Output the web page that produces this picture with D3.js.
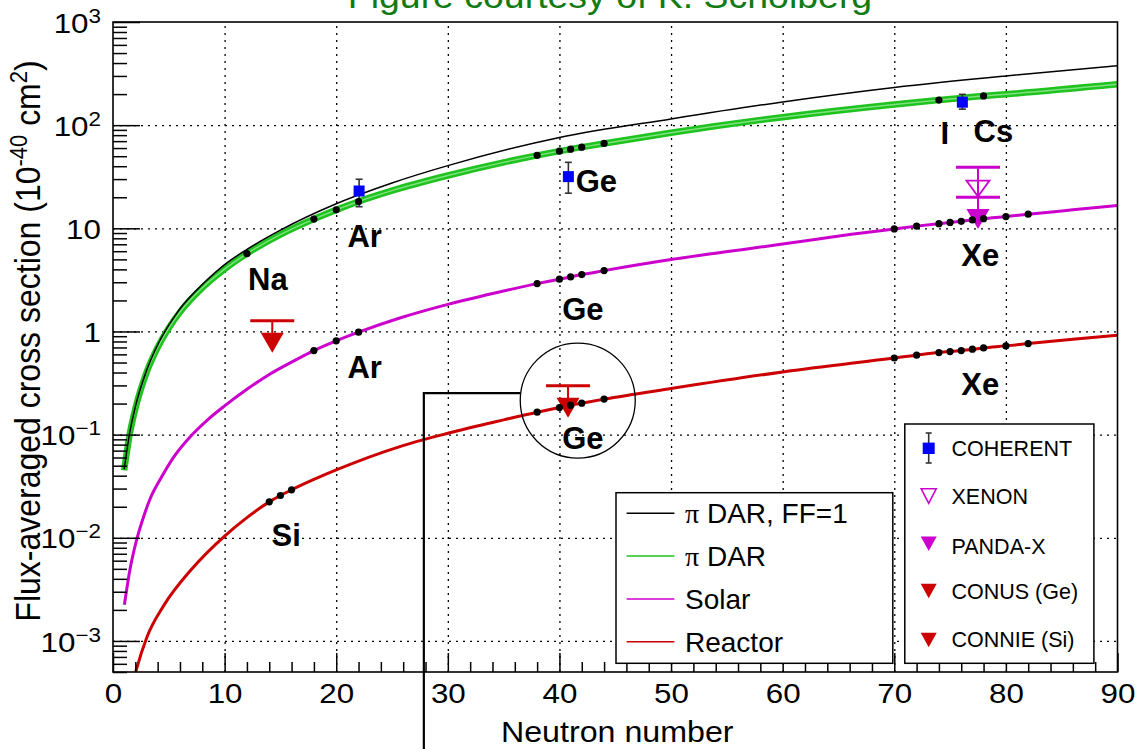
<!DOCTYPE html>
<html><head><meta charset="utf-8">
<script src="https://cdn.jsdelivr.net/npm/d3@7"></script>
<style>
body{margin:0;background:#fff;}
svg{display:block;font-family:"Liberation Sans",Arial,Helvetica,sans-serif;}
</style>
</head><body>
<svg id="chart" width="1135" height="749"></svg>
<script>
// ---------------- data ----------------
const darFF1N   = [1,1.5,2,3,4,5,6,8,10,12,15,20,25,30,40,50,60,70,80,90];
const darFF1Val = [0.046,0.104,0.185,0.415,0.74,1.15,1.66,2.85,4.45,6.25,9.6,17.3,27.5,40.5,76,115,168,232,300,376];

const darN   = [1,1.5,2,3,4,5,6,8,10,12,15,18,20,22,25,30,35,40,44,50,60,70,74,78,80,90];
const darVal = [0.045,0.101,0.178,0.4,0.7,1.08,1.54,2.65,4.02,5.69,8.7,12.3,15.1,18.2,23.2,32.5,43.6,56.0,66.5,84.5,119.5,158.5,175,192,199.5,249];

const solarN   = [1.02,1.5,1.9,2.9,3.3,4.3,5.5,6.9,8.5,10,12,14,16,18,20,22,25.7,30,35,38,40,41,42,44,50,56.8,60,66,70,72,74,76,78,80,82,86,90];
const solarVal = [0.00224,0.0048,0.0077,0.018,0.0235,0.038,0.062,0.095,0.14,0.19,0.275,0.383,0.505,0.653,0.811,0.984,1.35,1.83,2.47,2.91,3.21,3.38,3.56,3.89,4.98,6.3,7.05,8.7,9.87,10.5,11.1,11.7,12.4,13.0,13.7,15.1,16.6];

const reactorN   = [1.9,2.1,3.07,4.6,7,10,12,14,15,16,18,20,25.7,30,35,38,40,41,42,44,50,60,70,72,74,76,78,80,82,86,90];
const reactorVal = [0.00044,0.00053,0.00111,0.00225,0.0049,0.0104,0.0157,0.0223,0.0257,0.0292,0.0368,0.0455,0.0766,0.103,0.139,0.165,0.183,0.193,0.202,0.221,0.28,0.405,0.553,0.589,0.625,0.653,0.693,0.725,0.763,0.84,0.92];

const darDotN   = [12,18,20,22,38,40,41,42,44,74,78];
const darDotVal = [5.69,12.3,15.1,18.2,51.0,56.0,58.5,61.2,66.5,175,192];
const solarDotN   = [18,20,22,38,40,41,42,44,70,72,74,75,76,77,78,80,82];
const solarDotVal = [0.653,0.811,0.984,2.91,3.21,3.38,3.56,3.89,9.87,10.5,11.1,11.4,11.7,12.05,12.4,13.0,13.7];
const reactorDotN   = [14,15,16,38,40,41,42,44,70,72,74,75,76,77,78,80,82];
const reactorDotVal = [0.0223,0.0257,0.0292,0.165,0.183,0.193,0.202,0.221,0.553,0.589,0.625,0.639,0.653,0.673,0.693,0.725,0.763];

// measurements
const coherentN  = [22.05,40.8,76.1];
const coherentVal= [23.0,31.7,167];
const coherentLo = [16.2,21.9,143];
const coherentHi = [29.9,43.6,199];
const xenonN = [77.5], xenonVal = [24.3], xenonLo = [20.0], xenonHi = [39.1];
const pandaxN = [77.5], pandaxVal = [12.3], pandaxHi = [20.0];
const conusN = [40.77], conusLimit = [0.297];
const connieN = [14.27], connieLimit = [1.27];

// labels
const elemText = ["Na","Ar","Ar","Ge","Ge","Ge","I","Cs","Xe","Xe","Si"];
const elemN    = [12.1,21.0,21.0,41.45,40.25,40.25,74.15,77.1,76.0,76.0,14.2];
const elemVal  = [2.53,6.65,0.352,22.3,1.295,0.0728,65.8,69.2,4.32,0.243,0.00824];

const xTicks = [0,10,20,30,40,50,60,70,80,90];
const yTicks = [1e-3,1e-2,1e-1,1,10,100,1000];
const lineLegend = ["π DAR, FF=1","π DAR","Solar","Reactor"];
const markerLegend = ["COHERENT","XENON","PANDA-X","CONUS (Ge)","CONNIE (Si)"];
const titleText = "Figure courtesy of K. Scholberg";
const xTitle = "Neutron number";

// annotation (circle around Ge reactor points)
const circleN = 41.64, circleVal = 0.214;
const pointerN = 27.85, pointerVal = 0.252;

// ---------------- layout ----------------
const L=113, R=1117.5, T=22, B=672;
const BLACK="#000", GREEN="#1fc21f", MAG="#cc00cc", RED="#cc0000", BLUE="#0000ff";
const SXT = 1.12;

const svg = d3.select("#chart");
const x = d3.scaleLinear().domain([0,90]).range([L,R]);
const y = d3.scaleLog().domain([5e-4,1000]).range([B,T]);

svg.append("rect").attr("width",1135).attr("height",749).attr("fill","#fff");
svg.append("defs").append("clipPath").attr("id","pc")
  .append("rect").attr("x",L).attr("y",T).attr("width",R-L).attr("height",B-T);

// grid
const gridX = xTicks.filter(v=>v>0&&v<90);
const gridY = yTicks.filter(v=>v<1000);
svg.append("g").attr("transform",`translate(0,${B})`)
  .call(d3.axisBottom(x).tickValues(gridX).tickSize(-(B-T)).tickFormat(""))
  .call(g=>g.select(".domain").remove())
  .selectAll("line").attr("stroke",BLACK).attr("stroke-width",1.3).attr("stroke-dasharray","2,5");
svg.append("g").attr("transform",`translate(${L},0)`)
  .call(d3.axisLeft(y).tickValues(gridY).tickSize(-(R-L)).tickFormat(""))
  .call(g=>g.select(".domain").remove())
  .selectAll("line").attr("stroke",BLACK).attr("stroke-width",1.3).attr("stroke-dasharray","2,5");

// curves
const line = d3.line().x(d=>x(d[0])).y(d=>y(d[1])).curve(d3.curveMonotoneX);
const cg = svg.append("g").attr("clip-path","url(#pc)");
const darData = d3.zip(darN,darVal);
cg.append("path").attr("d",line(darData)).attr("fill","none").attr("stroke",GREEN).attr("stroke-width",6.5);
cg.append("path").attr("d",line(darData)).attr("fill","none").attr("stroke","#7fe37f").attr("stroke-width",1.4);
cg.append("path").attr("d",line(d3.zip(darFF1N,darFF1Val))).attr("fill","none").attr("stroke",BLACK).attr("stroke-width",1.5);
cg.append("path").attr("d",line(d3.zip(solarN,solarVal))).attr("fill","none").attr("stroke",MAG).attr("stroke-width",3);
cg.append("path").attr("d",line(d3.zip(reactorN,reactorVal))).attr("fill","none").attr("stroke",RED).attr("stroke-width",3);

// markers
const tri = (cx,cy,w,h)=>`M${cx-w/2},${cy-h/2}L${cx+w/2},${cy-h/2}L${cx},${cy+h/2}Z`;
const mg = svg.append("g");
function upperLimit(n,v,col){
  const cx=x(n), cy=y(v);
  mg.append("line").attr("x1",cx-22).attr("x2",cx+22).attr("y1",cy).attr("y2",cy).attr("stroke",col).attr("stroke-width",3);
  mg.append("line").attr("x1",cx).attr("x2",cx).attr("y1",cy).attr("y2",cy+13).attr("stroke",col).attr("stroke-width",2);
  mg.append("path").attr("d",tri(cx,cy+22,23,20)).attr("fill",col);
}
conusN.forEach((n,i)=>upperLimit(n,conusLimit[i],RED));
connieN.forEach((n,i)=>upperLimit(n,connieLimit[i],RED));
// XENON + PANDA-X
xenonN.forEach((n,i)=>{
  const cx=x(n);
  mg.append("line").attr("x1",cx).attr("x2",cx).attr("y1",y(xenonHi[i])).attr("y2",y(pandaxVal[i])-10).attr("stroke",MAG).attr("stroke-width",2);
  [xenonHi[i],xenonLo[i]].forEach(v=>mg.append("line").attr("x1",cx-22).attr("x2",cx+22).attr("y1",y(v)).attr("y2",y(v)).attr("stroke",MAG).attr("stroke-width",3));
  mg.append("path").attr("d",tri(cx,y(xenonVal[i]),23,16)).attr("fill","none").attr("stroke",MAG).attr("stroke-width",1.8);
});
pandaxN.forEach((n,i)=>{
  mg.append("path").attr("d",tri(x(n),y(pandaxVal[i]),23,20)).attr("fill",MAG);
});
// COHERENT
coherentN.forEach((n,i)=>{
  const cx=x(n);
  mg.append("line").attr("x1",cx).attr("x2",cx).attr("y1",y(coherentHi[i])).attr("y2",y(coherentLo[i])).attr("stroke","#333").attr("stroke-width",1.6);
  [coherentHi[i],coherentLo[i]].forEach(v=>mg.append("line").attr("x1",cx-3.5).attr("x2",cx+3.5).attr("y1",y(v)).attr("y2",y(v)).attr("stroke","#333").attr("stroke-width",1.6));
  mg.append("rect").attr("x",cx-5.5).attr("y",y(coherentVal[i])-5.5).attr("width",11).attr("height",11).attr("fill",BLUE);
});

// dots
const dg = svg.append("g");
[[darDotN,darDotVal],[solarDotN,solarDotVal],[reactorDotN,reactorDotVal]].forEach(([ns,vs])=>{
  dg.selectAll(null).data(d3.zip(ns,vs)).enter().append("circle")
    .attr("cx",d=>x(d[0])).attr("cy",d=>y(d[1])).attr("r",3.6).attr("fill",BLACK);
});

// element labels
svg.append("g").selectAll("text").data(d3.zip(elemText,elemN,elemVal)).enter().append("text")
  .attr("x",d=>x(d[1])).attr("y",d=>y(d[2])).attr("font-size",31).attr("font-weight","bold").attr("fill",BLACK)
  .text(d=>d[0]);

// annotation circle
svg.append("circle").attr("cx",x(circleN)).attr("cy",y(circleVal)).attr("r",57.5)
  .attr("fill","none").attr("stroke",BLACK).attr("stroke-width",1.3);

// axes ticks
const minorY=[];
[1e-4,1e-3,1e-2,1e-1,1,10,100].forEach(d=>{for(let k=2;k<=9;k++){const v=k*d; if(v>=5e-4&&v<1000) minorY.push(v);}});
const minorX=d3.range(2,90,2).filter(v=>v%10!==0);
svg.append("g").attr("transform",`translate(${L},0)`)
  .call(d3.axisLeft(y).tickValues(minorY).tickSizeInner(-14).tickSizeOuter(0).tickFormat(""))
  .call(g=>g.select(".domain").remove())
  .selectAll("line").attr("stroke",BLACK).attr("stroke-width",1.5);
svg.append("g").attr("transform",`translate(0,${B})`)
  .call(d3.axisBottom(x).tickValues(minorX).tickSizeInner(-10).tickSizeOuter(0).tickFormat(""))
  .call(g=>g.select(".domain").remove())
  .selectAll("line").attr("stroke",BLACK).attr("stroke-width",1.5);

const yAx = svg.append("g").attr("transform",`translate(${L},0)`)
  .call(d3.axisLeft(y).tickValues(yTicks).tickSizeInner(-27).tickSizeOuter(0).tickPadding(12).tickFormat(()=>""));
yAx.select(".domain").remove();
yAx.selectAll(".tick line").attr("stroke",BLACK).attr("stroke-width",1.5);
yAx.selectAll(".tick text").each(function(d){
  const t=d3.select(this);
  const e=Math.round(Math.log10(d));
  t.attr("x",-12/SXT).attr("transform",`scale(${SXT},1)`).attr("font-size",28).attr("fill",BLACK)
   .attr("font-family","Liberation Sans, Arial, sans-serif").attr("dy","0.36em");
  if(e===0) t.text("1");
  else if(e===1) t.text("10");
  else { t.append("tspan").text("10"); t.append("tspan").attr("font-size",20).attr("dy",-10).text(e<0?"\u2212"+(-e):String(e)); }
});

const xAx = svg.append("g").attr("transform",`translate(0,${B})`)
  .call(d3.axisBottom(x).tickValues(xTicks).tickSizeInner(-19).tickSizeOuter(0).tickPadding(11.6).tickFormat(d3.format("d")));
xAx.select(".domain").remove();
xAx.selectAll(".tick line").attr("stroke",BLACK).attr("stroke-width",1.5);
xAx.selectAll(".tick text").attr("font-size",28).attr("fill",BLACK).attr("transform",`scale(${SXT},1)`)
  .attr("font-family","Liberation Sans, Arial, sans-serif");

// frame
svg.append("rect").attr("x",L).attr("y",T).attr("width",R-L).attr("height",B-T)
  .attr("fill","none").attr("stroke",BLACK).attr("stroke-width",1.6);

// pointer line (drawn over axis, down to the page bottom)
svg.append("path")
  .attr("d",`M${x(pointerN)},749L${x(pointerN)},${y(pointerVal)}L${x(circleN)-57.5},${y(pointerVal)}`)
  .attr("fill","none").attr("stroke",BLACK).attr("stroke-width",2.2);

// axis titles
svg.append("text").attr("transform",`translate(${(L+R)/2+2},741.5) scale(1.11,1)`).attr("text-anchor","middle")
  .attr("font-size",29).attr("fill",BLACK).text(xTitle);
const yt = svg.append("text").attr("transform","translate(40,341) rotate(-90) scale(1,1.1)")
  .attr("text-anchor","middle").attr("font-size",32).attr("fill",BLACK);
yt.append("tspan").text("Flux-averaged cross section (10");
yt.append("tspan").attr("font-size",22).attr("dy",-12).text("-40");
yt.append("tspan").attr("dy",12).text(" cm");
yt.append("tspan").attr("font-size",22).attr("dy",-12).text("2");
yt.append("tspan").attr("dy",12).text(")");

// title (partly above the page edge, as in the reference)
svg.append("text").attr("transform","translate(610,8) scale(1.07,1)").attr("text-anchor","middle")
  .attr("font-size",35).attr("fill","#127a12").text(titleText);

// legend 1 (lines)
const lg1 = svg.append("g");
lg1.append("rect").attr("x",616).attr("y",492.7).attr("width",276.8).attr("height",170.6)
  .attr("fill","#fff").attr("stroke",BLACK).attr("stroke-width",1.5);
const l1y=[513.3,556,599,641.7], l1c=[BLACK,GREEN,MAG,RED];
lineLegend.forEach((s,i)=>{
  lg1.append("line").attr("x1",626.6).attr("x2",674.4).attr("y1",l1y[i]).attr("y2",l1y[i]).attr("stroke",l1c[i]).attr("stroke-width",1.5);
  const t=lg1.append("text").attr("x",685).attr("y",l1y[i]+10).attr("font-size",28).attr("fill",BLACK);
  if(s.startsWith("π")){ t.append("tspan").attr("font-family","Liberation Serif, serif").text("π"); t.append("tspan").text(s.slice(1)); }
  else t.text(s);
});

// legend 2 (markers)
const lg2 = svg.append("g");
lg2.append("rect").attr("x",904.8).attr("y",424).attr("width",189.1).attr("height",239.3)
  .attr("fill","#fff").attr("stroke",BLACK).attr("stroke-width",1.5);
const l2y=[448.5,496,546.5,591,639.5], mx=928.7;
lg2.append("line").attr("x1",mx).attr("x2",mx).attr("y1",433).attr("y2",463).attr("stroke","#333").attr("stroke-width",1.6);
[433,463].forEach(v=>lg2.append("line").attr("x1",mx-3).attr("x2",mx+3).attr("y1",v).attr("y2",v).attr("stroke","#333").attr("stroke-width",1.6));
lg2.append("rect").attr("x",mx-6).attr("y",448.3-5.7).attr("width",12).attr("height",11.4).attr("fill",BLUE);
lg2.append("path").attr("d",tri(mx,496,15,14.5)).attr("fill","#fff").attr("stroke",MAG).attr("stroke-width",1.6);
lg2.append("path").attr("d",tri(mx,543.7,16,14.5)).attr("fill",MAG);
lg2.append("path").attr("d",tri(mx,591,16,14.5)).attr("fill",RED);
lg2.append("path").attr("d",tri(mx,640,16,14.5)).attr("fill",RED);
markerLegend.forEach((s,i)=>{
  lg2.append("text").attr("x",951.5).attr("y",l2y[i]+7.8).attr("font-size",21.5).attr("fill",BLACK).text(s);
});
</script>
</body></html>
